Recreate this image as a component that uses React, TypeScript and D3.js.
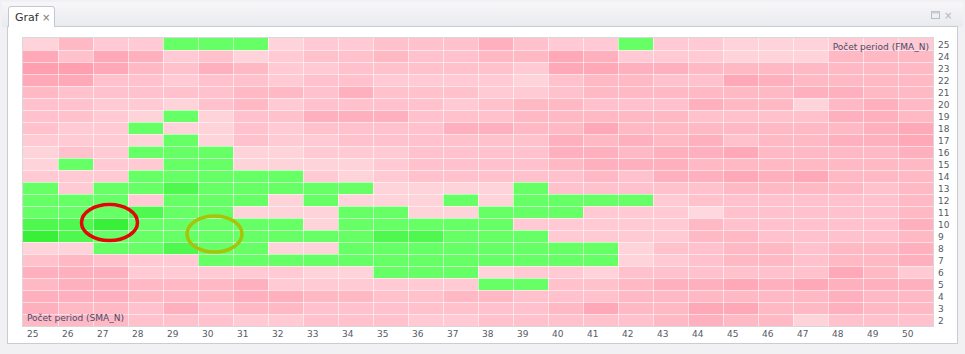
import React from "react";
import * as d3 from "d3";

const xCats = d3.range(25, 51).map(String); // SMA_N 25..50
const yCats = d3.range(25, 1, -1).map(String); // FMA_N 25..2 (top to bottom)

// Each row: values for SMA_N 25..50. Positive = profit (green), negative = loss (pink)
const r25 = [-1,-4,-2,-2,1,1,1,-1,-2,-2,-3,-3,-3,-5,-3,-2,-2,1,-2,-2,-1,-1,-1,-2,-2,-2];
const r24 = [-6,-3,-6,-5,-2,-3,-1,-2,-3,-3,-4,-3,-3,-4,-4,-6,-5,-2,-2,-2,-1,-1,-1,-4,-4,-4];
const r23 = [-7,-7,-6,-4,-3,-5,-4,-2,-2,-3,-3,-3,-3,-3,-2,-6,-6,-5,-5,-4,-4,-4,-4,-4,-4,-4];
const r22 = [-6,-6,-3,-3,-2,-3,-3,-2,-3,-3,-2,-2,-2,-2,-1,-3,-4,-4,-3,-3,-6,-5,-4,-4,-4,-4];
const r21 = [-4,-3,-3,-3,-3,-3,-4,-4,-3,-5,-3,-3,-3,-2,-2,-3,-4,-4,-4,-4,-4,-4,-5,-5,-4,-4];
const r20 = [-3,-3,-2,-2,-1,-3,-4,-2,-3,-3,-3,-3,-2,-3,-4,-4,-3,-3,-3,-5,-4,-4,-1,-4,-5,-4];
const r19 = [-3,-3,-2,-1,1,-1,-3,-3,-5,-5,-5,-3,-3,-3,-4,-4,-4,-4,-4,-3,-3,-3,-3,-5,-5,-4];
const r18 = [-3,-2,-2,1,-1,-1,-3,-2,-3,-3,-3,-3,-5,-5,-4,-4,-6,-4,-4,-4,-4,-4,-4,-4,-5,-6];
const r17 = [-2,-2,-2,-1,1,-1,-3,-2,-2,-3,-3,-3,-3,-3,-3,-5,-4,-5,-4,-5,-3,-4,-4,-5,-5,-6];
const r16 = [-1,-3,-2,1,1,1,-1,-1,-2,-2,-2,-3,-3,-3,-3,-5,-5,-4,-5,-5,-6,-4,-4,-4,-4,-5];
const r15 = [-1,1,-2,-2,1,1,-1,-1,-1,-1,-2,-3,-3,-3,-3,-4,-5,-5,-5,-4,-4,-4,-4,-4,-4,-4];
const r14 = [-2,-2,-2,1,1,1,1,1,-2,-1,-2,-3,-3,-3,-3,-3,-4,-3,-5,-5,-6,-5,-6,-4,-4,-4];
const r13 = [1,-2,1,1,2,1,1,1,1,1,-1,-1,-1,-1,1,-3,-3,-3,-3,-3,-4,-4,-4,-4,-3,-4];
const r12 = [1,1,1,-2,1,1,1,-1,1,-1,-1,-1,1,-1,1,1,1,1,-2,-3,-3,-3,-3,-3,-3,-4];
const r11 = [1,1,1,2,1,1,-1,-1,-1,1,1,-1,-1,1,1,1,-2,-2,-2,-0.5,-3,-3,-3,-3,-3,-4];
const r10 = [2,2,3,1,1,1,1,1,-1,1,1,1,1,1,-2,-2,-2,-2,-2,-4,-3,-3,-3,-3,-3,-5];
const r9 = [3,2,1,1,1,1,1,1,1,1,2,2,1,1,1,-2,-2,-2,-2,-4,-4,-3,-3,-3,-3,-4];
const r8 = [-1,-1,1,1,2,1,1,-1,-1,1,1,1,1,1,1,1,1,-1,-3,-3,-4,-4,-3,-4,-4,-5];
const r7 = [-3,-4,-3,-2,-2,1,1,1,1,1,1,1,1,1,1,1,1,-1,-2,-3,-4,-4,-3,-4,-4,-5];
const r6 = [-5,-5,-5,-2,-2,-2,-2,-2,-1,-1,1,1,1,-1,-2,-2,-1,-3,-3,-3,-3,-3,-3,-6,-4,-2];
const r5 = [-4,-5,-5,-4,-4,-4,-5,-2,-2,-2,-2,-2,-2,1,1,-3,-3,-4,-5,-5,-6,-5,-6,-5,-5,-5];
const r4 = [-5,-5,-5,-4,-4,-4,-5,-5,-4,-4,-3,-3,-4,-4,-3,-3,-3,-4,-4,-4,-4,-4,-4,-5,-4,-4];
const r3 = [-5,-4,-4,-3,-5,-3,-4,-4,-3,-3,-3,-3,-3,-3,-3,-4,-6,-4,-4,-6,-6,-4,-4,-5,-4,-4];
const r2 = [-4,-4,-4,-3,-3,-3,-2,-2,-3,-3,-3,-2,-2,-3,-3,-3,-3,-3,-4,-5,-4,-4,-1,-3,-3,-3];

const rows = [r25, r24, r23, r22, r21, r20, r19, r18, r17, r16, r15, r14, r13, r12, r11, r10, r9, r8, r7, r6, r5, r4, r3, r2];

const xAxisTitle = "Počet period (SMA_N)";
const yAxisTitle = "Počet period (FMA_N)";
const tabTitle = "Graf";

// highlighted combinations (SMA_N, FMA_N)
const markRed = { x: "27", y: "10" };
const markOlive = { x: "30", y: "9" };

const W = 965;
const H = 354;

export default function App() {
  const x = d3.scaleBand<string>().domain(xCats).range([23, 933]).paddingInner(0);
  const y = d3.scaleBand<string>().domain(yCats).range([38, 326]).paddingInner(0);
  const pink = d3.scaleLinear<string>().domain([0.5, 7]).range(["#ffd7de", "#ff9fb0"]).interpolate(d3.interpolateRgb).clamp(true);
  const green = d3.scaleLinear<string>().domain([1, 3]).range(["#66ff66", "#38f038"]).interpolate(d3.interpolateRgb).clamp(true);

  const cells: { xc: string; yc: string; v: number }[] = [];
  rows.forEach((row, i) => {
    row.forEach((v, j) => cells.push({ xc: xCats[j], yc: yCats[i], v }));
  });

  const font = "DejaVu Sans, Verdana, sans-serif";
  const bw = x.bandwidth();
  const bh = y.bandwidth();

  return (
    <div style={{ position: "absolute", left: 0, top: 0, width: W, height: H }}>
      <svg width={W} height={H} style={{ display: "block" }}>
        <defs>
          <linearGradient id="hdr" x1="0" y1="0" x2="0" y2="1">
            <stop offset="0" stopColor="#f7f7f9" />
            <stop offset="1" stopColor="#e9eaee" />
          </linearGradient>
        </defs>
        <rect x={0} y={0} width={W} height={H} fill="#f1f1f3" />
        {/* header */}
        <rect x={2} y={2} width={W - 4} height={25} fill="url(#hdr)" />
        {/* content panel */}
        <rect x={7.5} y={26.5} width={950} height={317} fill="#ffffff" stroke="#c9ccd3" />
        {/* tab */}
        <path d="M8.5,27 L8.5,9 Q8.5,6.5 11,6.5 L52,6.5 Q54.5,6.5 54.5,9 L54.5,27" fill="#ffffff" stroke="#c4c7ce" />
        <text x={15} y={21} fontFamily={font} fontSize={11} fill="#333">{tabTitle}</text>
        <text x={42} y={20.5} fontFamily={font} fontSize={10} fill="#777">×</text>
        {/* window buttons */}
        <rect x={931.5} y={11.5} width={8} height={7} fill="none" stroke="#b8bcc4" />
        <rect x={931.5} y={11.5} width={8} height={2} fill="#c8ccd4" />
        <text x={944} y={19} fontFamily={font} fontSize={10} fill="#b0b4bc">×</text>

        {/* heatmap cells */}
        <g>
          {cells.map((c, i) => (
            <rect
              key={i}
              x={x(c.xc)}
              y={y(c.yc)}
              width={bw}
              height={bh}
              fill={c.v > 0 ? green(c.v) : pink(-c.v)}
            />
          ))}
        </g>
        {/* grid lines */}
        <g stroke="#ffffff" strokeOpacity={0.55} strokeWidth={1}>
          {xCats.slice(1).map((c) => (
            <line key={"v" + c} x1={Math.round(x(c)!) + 0.5} x2={Math.round(x(c)!) + 0.5} y1={38} y2={326} />
          ))}
          {yCats.slice(1).map((c) => (
            <line key={"h" + c} x1={23} x2={933} y1={Math.round(y(c)!) + 0.5} y2={Math.round(y(c)!) + 0.5} />
          ))}
        </g>
        <rect x={22.5} y={37.5} width={911} height={289} fill="none" stroke="#d8d8dc" />

        {/* axis titles */}
        <text x={27} y={321} fontFamily={font} fontSize={9} fill="#4a4a6a">{xAxisTitle}</text>
        <text x={929} y={50} textAnchor="end" fontFamily={font} fontSize={9} fill="#4a4a6a">{yAxisTitle}</text>

        {/* x tick labels */}
        {xCats.map((c) => (
          <text key={"xt" + c} x={x(c)! + 4} y={337} fontFamily={font} fontSize={9} fill="#555a66">{c}</text>
        ))}
        {/* y tick labels */}
        {yCats.map((c) => (
          <text key={"yt" + c} x={938} y={y(c)! + bh / 2 + 4} fontFamily={font} fontSize={9} fill="#555a66">{c}</text>
        ))}

        {/* highlight ellipses */}
        <ellipse cx={x(markRed.x)! + bw / 2 - 1} cy={y(markRed.y)! + 4.5} rx={28} ry={18} fill="none" stroke="#e00808" strokeWidth={3.5} />
        <ellipse cx={x(markOlive.x)! + bw / 2 - 1} cy={y(markOlive.y)! + 4} rx={27.5} ry={18} fill="none" stroke="#a9c20a" strokeWidth={3.5} />
      </svg>
    </div>
  );
}
